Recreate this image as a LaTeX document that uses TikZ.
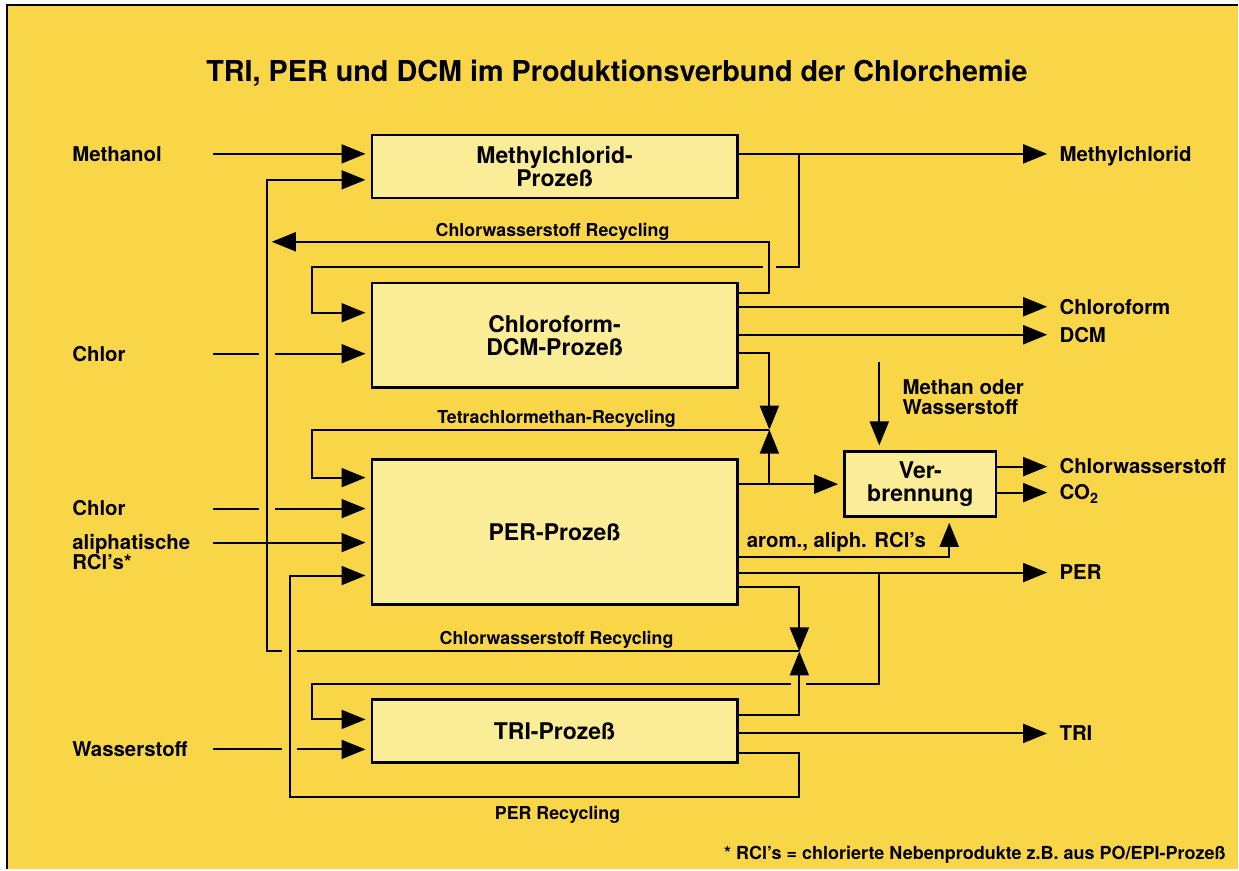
\documentclass[tikz,border=0pt]{standalone}
\usepackage{fontspec}
\setmainfont{TeX Gyre Heros}
\usetikzlibrary{arrows.meta,calc}
\definecolor{bgyellow}{RGB}{248,214,72}
\definecolor{boxfill}{RGB}{251,236,152}

\begin{document}
\begin{tikzpicture}[x=0.5pt,y=-0.5pt,
  flow/.style={draw=black,line width=1pt},
  arr/.style={flow,-{Triangle[length=12pt,width=9.5pt]}},
  into/.style={arr,shorten >=2.5pt},
  procbox/.style={draw=black,line width=1.2pt,fill=boxfill,inner sep=0pt,align=center,
    font=\bfseries\fontsize{11.5}{11.5}\selectfont},
  lbl/.style={inner sep=0pt,text height=7.3pt,text depth=0pt,
    font=\bfseries\fontsize{10.2}{12}\selectfont},
  looplbl/.style={inner sep=0pt,anchor=base,font=\bfseries\fontsize{8.9}{10}\selectfont},
  titlelbl/.style={inner sep=0pt,anchor=base,font=\bfseries\fontsize{14.4}{16}\selectfont},
  notelbl/.style={inner sep=0pt,anchor=base east,font=\bfseries\fontsize{9}{10}\selectfont}]

% sheet and frame
\fill[white] (0,0) rectangle (1239,870);
\fill[bgyellow] (7,5) rectangle (1239,870);
\draw[line width=1pt] (7,870) -- (7,5) -- (1239,5);
\useasboundingbox (0,0) rectangle (1239,870);

\node[titlelbl] (title) at (617.5,82) {TRI, PER und DCM im Produktionsverbund der Chlorchemie};

% process units
\node[procbox,minimum width=183pt,minimum height=31.5pt] (mcp) at (555,166.5) {Methylchlorid-\\Prozeß};
\node[procbox,minimum width=183pt,minimum height=52.5pt] (cdp) at (555,335.5) {Chloroform-\\DCM-Prozeß};
\node[procbox,minimum width=183pt,minimum height=72.5pt] (perp) at (555,532.5) {PER-Prozeß};
\node[procbox,minimum width=183pt,minimum height=31.5pt] (trip) at (555,731.5) {TRI-Prozeß};
\node[procbox,minimum width=76pt,minimum height=32.5pt] (verb) at (921,484.5) {Ver-\\brennung};

% feed labels
\node[lbl,anchor=west] (methanol) at (72,154) {Methanol};
\node[lbl,anchor=west] (chlorA) at (72,354) {Chlor};
\node[lbl,anchor=west] (chlorB) at (72,509) {Chlor};
\node[lbl,anchor=west] (aliph) at (72,543) {aliphatische};
\node[lbl,anchor=west] (rcl) at (72,563) {RCl’s*};
\node[lbl,anchor=west] (wasser) at (72,750) {Wasserstoff};

% product labels
\node[lbl,anchor=west] (oMethyl) at (1060,154) {Methylchlorid};
\node[lbl,anchor=west] (oChloro) at (1060,307) {Chloroform};
\node[lbl,anchor=west] (oDCM) at (1060,335) {DCM};
\node[lbl,anchor=west] (oHCl) at (1060,467) {Chlorwasserstoff};
\node[lbl,anchor=west] (oCO2) at (1060,493) {CO\textsubscript{2}};
\node[lbl,anchor=west] (oPER) at (1060,573) {PER};
\node[lbl,anchor=west] (oTRI) at (1060,734) {TRI};
\node[lbl,anchor=west] (methan) at (903,388) {Methan oder};
\node[lbl,anchor=west] (wasserB) at (903,408) {Wasserstoff};

% stream labels
\node[looplbl] (hclA) at (553,237) {Chlorwasserstoff Recycling};
\node[looplbl] (tetra) at (557,424) {Tetrachlormethan-Recycling};
\node[looplbl] (hclB) at (557,645) {Chlorwasserstoff Recycling};
\node[looplbl] (perrec) at (558,820) {PER Recycling};
\node[lbl,anchor=west] (arom) at (747,541) {arom., aliph. RCl’s};
\node[notelbl] (note) at (1227,860) {* RCl’s = chlorierte Nebenprodukte z.B. aus PO/EPI-Prozeß};

% routing columns and rows
\coordinate (inX) at (213,0);
\coordinate (colH) at (267,0);
\coordinate (colP) at (290,0);
\coordinate (colL) at (312,0);
\coordinate (colA) at (770,0);
\coordinate (colB) at (800,0);
\coordinate (colC) at (880,0);
\coordinate (colD) at (950,0);
\coordinate (r180) at (0,180);
\coordinate (r242) at (0,242);
\coordinate (r267) at (0,267);
\coordinate (r293) at (0,293);
\coordinate (r313) at (0,313);
\coordinate (r353) at (0,353);
\coordinate (r362) at (0,362);
\coordinate (r430) at (0,430);
\coordinate (r478) at (0,478);
\coordinate (r557) at (0,557);
\coordinate (r576) at (0,576);
\coordinate (r587) at (0,587);
\coordinate (r652) at (0,652);
\coordinate (r685) at (0,685);
\coordinate (r716) at (0,716);
\coordinate (r720) at (0,720);
\coordinate (r754) at (0,754);
\coordinate (r798) at (0,798);

% Methylchlorid stage
\draw[into] (inX |- methanol.west) -- (mcp.west |- methanol.west);
\draw[arr,shorten >=6pt] (mcp.east |- oMethyl.west) -- (oMethyl.west);
\draw[flow] (colB |- oMethyl.west) -- (colB |- r267) -- ($(colA |- r267)+(7,0)$);
\draw[into] ($(colA |- r267)+(-6,0)$) -- (colL |- r267) -- (colL |- r313) -- (cdp.west |- r313);

% hydrogen chloride recycling
\draw[arr] (cdp.east |- r293) -- (colA |- r293) -- (colA |- r242) -- ($(colH |- r242)+(5,0)$);
\draw[flow] (colB |- r652) -- ($(colP |- r652)+(7,0)$);
\draw[into] ($(colP |- r652)+(-8,0)$) -- (colH |- r652) -- (colH |- r180) -- (mcp.west |- r180);

% Chloroform/DCM stage
\draw[flow] (inX |- chlorA.west) -- ($(colH |- chlorA.west)+(-8,0)$);
\draw[into] ($(colH |- chlorA.west)+(8,0)$) -- (cdp.west |- chlorA.west);
\draw[arr,shorten >=6pt] (cdp.east |- oChloro.west) -- (oChloro.west);
\draw[arr,shorten >=6pt] (cdp.east |- oDCM.west) -- (oDCM.west);
\draw[arr] (cdp.east |- r353) -- (colA |- r353) -- (colA |- r430);

% tetrachloromethane recycling and incineration feed
\draw[into] (perp.east |- verb.west) -- (verb.west);
\draw[arr] (colA |- verb.west) -- (colA |- r430);
\draw[into] (colA |- r430) -- (colL |- r430) -- (colL |- r478) -- (perp.west |- r478);

% PER stage feeds
\draw[flow] (inX |- chlorB.west) -- ($(colH |- chlorB.west)+(-8,0)$);
\draw[into] ($(colH |- chlorB.west)+(8,0)$) -- (perp.west |- chlorB.west);
\draw[into] (inX |- aliph.west) -- (perp.west |- aliph.west);

% PER stage products
\draw[into] (perp.east |- r557) -- (colD |- r557) -- (colD |- verb.south);
\draw[arr,shorten >=6pt] (perp.east |- oPER.west) -- (oPER.west);
\draw[flow] (colC |- oPER.west) -- (colC |- r685) -- ($(colB |- r685)+(7,0)$);
\draw[into] ($(colB |- r685)+(-8,0)$) -- (colL |- r685) -- (colL |- r720) -- (trip.west |- r720);
\draw[arr] (perp.east |- r587) -- (colB |- r587) -- (colB |- r652);

% TRI stage
\draw[arr] (trip.east |- r716) -- (colB |- r716) -- (colB |- r652);
\draw[arr,shorten >=6pt] (trip.east |- oTRI.west) -- (oTRI.west);
\draw[into] (trip.east |- r754) -- (colB |- r754) -- (colB |- r798) -- (colP |- r798) -- (colP |- r576) -- (perp.west |- r576);
\draw[flow] (inX |- wasser.west) -- ($(colP |- wasser.west)+(-8,0)$);
\draw[into] ($(colP |- wasser.west)+(7,0)$) -- (trip.west |- wasser.west);

% incineration
\draw[into] (colC |- r362) -- (colC |- verb.north);
\draw[arr,shorten >=6pt] (verb.east |- oHCl.west) -- (oHCl.west);
\draw[arr,shorten >=6pt] (verb.east |- oCO2.west) -- (oCO2.west);
\end{tikzpicture}
\end{document}
